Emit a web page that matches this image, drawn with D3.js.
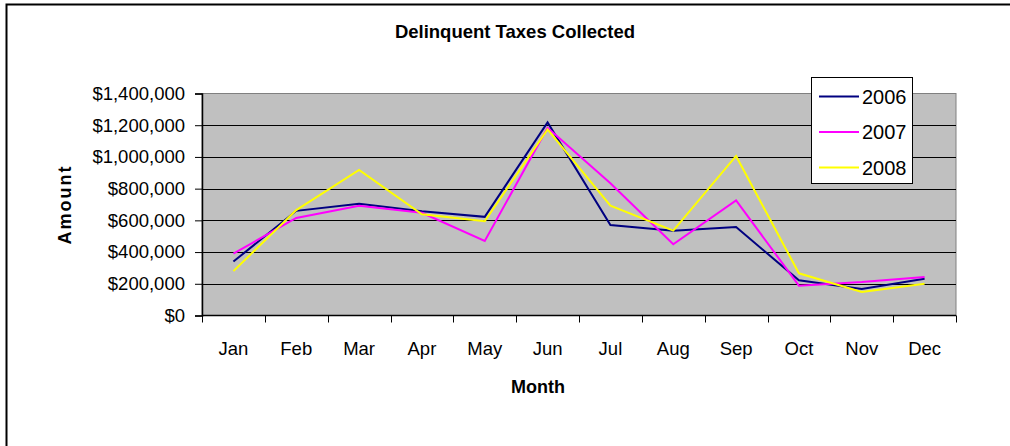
<!DOCTYPE html>
<html>
<head>
<meta charset="utf-8">
<script src="https://cdn.jsdelivr.net/npm/d3@7"></script>
<style>
  body { margin: 0; background: #fff; }
  text { font-family: Arial, "Liberation Sans", sans-serif; }
</style>
</head>
<body>
<div id="chart"></div>
<script>
// data
var months = ["Jan", "Feb", "Mar", "Apr", "May", "Jun", "Jul", "Aug", "Sep", "Oct", "Nov", "Dec"];
var years = ["2006", "2007", "2008"];
var values2006 = [340000, 660000, 705000, 658000, 622000, 1218000, 570000, 535000, 558000, 222000, 167000, 232000];
var values2007 = [390000, 615000, 692000, 648000, 470000, 1184000, 834000, 449000, 726000, 188000, 211000, 243000];
var values2008 = [280000, 665000, 918000, 638000, 594000, 1174000, 693000, 535000, 1006000, 266000, 148000, 200000];
var yTicks = [0, 200000, 400000, 600000, 800000, 1000000, 1200000, 1400000];
var lineColors = ["#000080", "#ff00ff", "#ffff00"];

var series = [values2006, values2007, values2008];

var width = 1010, height = 446;
var plot = {left: 202, right: 956, top: 93.5, bottom: 315.5};

var svg = d3.select("#chart")
  .append("svg")
  .attr("width", width)
  .attr("height", height);

// outer frame (only top + left visible in the crop)
svg.append("path")
  .attr("d", "M6.5," + height + "V4.5H" + width)
  .attr("fill", "none")
  .attr("stroke", "#000")
  .attr("stroke-width", 2);

var xScale = d3.scaleBand()
  .domain(months)
  .range([plot.left, plot.right])
  .padding(0);

var yScale = d3.scaleLinear()
  .domain([0, 1400000])
  .range([plot.bottom, plot.top]);

// plot background
svg.append("rect")
  .attr("x", plot.left)
  .attr("y", plot.top)
  .attr("width", plot.right - plot.left)
  .attr("height", plot.bottom - plot.top)
  .attr("fill", "#c0c0c0")
  .attr("stroke", "#808080")
  .attr("stroke-width", 1);

// gridlines
svg.selectAll(".grid")
  .data(yTicks.filter(function(d) { return d > 0 && d < 1400000; }))
  .enter().append("line")
  .attr("class", "grid")
  .attr("x1", plot.left)
  .attr("x2", plot.right)
  .attr("y1", function(d) { return Math.round(yScale(d)) + 0.5; })
  .attr("y2", function(d) { return Math.round(yScale(d)) + 0.5; })
  .attr("stroke", "#000")
  .attr("stroke-width", 1);

// y axis
var yAxis = d3.axisLeft(yScale)
  .tickValues(yTicks)
  .tickSize(7)
  .tickPadding(10)
  .tickFormat(function(d) { return "$" + d3.format(",")(d); });

var gY = svg.append("g")
  .attr("transform", "translate(" + plot.left + ",0)")
  .call(yAxis);
gY.select(".domain").attr("stroke", "#000").attr("stroke-width", 1.5);
gY.selectAll(".tick line").attr("stroke", "#000");
gY.selectAll(".tick text")
  .attr("font-size", "18.5px")
  .attr("fill", "#000");

// x axis: labels at category centres, ticks between categories
var xAxis = d3.axisBottom(xScale).tickSize(0).tickPadding(26);
var gX = svg.append("g")
  .attr("transform", "translate(0," + plot.bottom + ")")
  .call(xAxis);
gX.select(".domain").remove();
gX.selectAll(".tick text")
  .attr("font-size", "18.5px")
  .attr("fill", "#000");

svg.append("line")
  .attr("x1", plot.left)
  .attr("x2", plot.right)
  .attr("y1", plot.bottom)
  .attr("y2", plot.bottom)
  .attr("stroke", "#000")
  .attr("stroke-width", 1.5);

var boundaries = months.map(function(m) { return xScale(m); }).concat([plot.right]);
svg.selectAll(".xtick")
  .data(boundaries)
  .enter().append("line")
  .attr("class", "xtick")
  .attr("x1", function(d) { return Math.round(d) + 0.5; })
  .attr("x2", function(d) { return Math.round(d) + 0.5; })
  .attr("y1", plot.bottom)
  .attr("y2", plot.bottom + 7)
  .attr("stroke", "#000");

// lines
var line = d3.line()
  .x(function(d, i) { return xScale(months[i]) + xScale.bandwidth() / 2; })
  .y(function(d) { return yScale(d); });

svg.selectAll(".series")
  .data(series)
  .enter().append("path")
  .attr("class", "series")
  .attr("d", line)
  .attr("fill", "none")
  .attr("stroke", function(d, i) { return lineColors[i]; })
  .attr("stroke-width", 2)
  .attr("stroke-linejoin", "miter");

// titles
svg.append("text")
  .attr("x", 515)
  .attr("y", 38)
  .attr("text-anchor", "middle")
  .attr("font-size", "18.5px")
  .attr("font-weight", "bold")
  .text("Delinquent Taxes Collected");

svg.append("text")
  .attr("x", 538)
  .attr("y", 393)
  .attr("text-anchor", "middle")
  .attr("font-size", "18px")
  .attr("font-weight", "bold")
  .text("Month");

svg.append("text")
  .attr("transform", "translate(71," + ((plot.top + plot.bottom) / 2) + ") rotate(-90)")
  .attr("text-anchor", "middle")
  .attr("font-size", "18px")
  .attr("font-weight", "bold")
  .attr("letter-spacing", "2px")
  .text("Amount");

// legend
var legend = svg.append("g");
legend.append("rect")
  .attr("x", 811.5)
  .attr("y", 77.5)
  .attr("width", 101)
  .attr("height", 106)
  .attr("fill", "#fff")
  .attr("stroke", "#000")
  .attr("stroke-width", 1);

var rows = legend.selectAll(".row")
  .data(years)
  .enter().append("g")
  .attr("class", "row")
  .attr("transform", function(d, i) { return "translate(0," + (96.5 + i * 35.5) + ")"; });

rows.append("line")
  .attr("x1", 819)
  .attr("x2", 859)
  .attr("stroke", function(d, i) { return lineColors[i]; })
  .attr("stroke-width", 2);

rows.append("text")
  .attr("x", 862)
  .attr("y", 7)
  .attr("font-size", "20px")
  .text(function(d) { return d; });
</script>
</body>
</html>
